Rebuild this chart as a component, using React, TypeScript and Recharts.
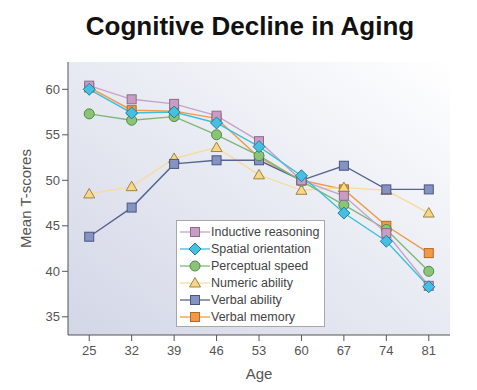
import { CartesianGrid, Line, LineChart, XAxis, YAxis } from "recharts";

const ages = [25, 32, 39, 46, 53, 60, 67, 74, 81];
const inductiveReasoning = [60.4, 58.9, 58.4, 57.1, 54.3, 50.0, 48.3, 44.2, 38.4];
const spatialOrientation = [60.0, 57.4, 57.5, 56.3, 53.7, 50.5, 46.4, 43.3, 38.3];
const perceptualSpeed = [57.3, 56.6, 57.0, 55.0, 52.7, 49.9, 47.3, 44.6, 40.0];
const numericAbility = [48.5, 49.3, 52.4, 53.6, 50.6, 48.9, 49.2, 48.9, 46.4];
const verbalAbility = [43.8, 47.0, 51.8, 52.2, 52.2, 50.0, 51.6, 49.0, 49.0];
const verbalMemory = [60.2, 57.7, 57.6, 56.8, 52.5, 50.0, 49.0, 45.0, 42.0];
const yTicks = [35, 40, 45, 50, 55, 60];

type Shape = "square" | "diamond" | "circle" | "triangle";

// legend order
const SERIES = [
  { key: "inductive", name: "Inductive reasoning", values: inductiveReasoning, line: "#c9a2c9", fill: "#c99cc4", stroke: "#8e6c8c", shape: "square" as Shape },
  { key: "spatial", name: "Spatial orientation", values: spatialOrientation, line: "#3fbfd8", fill: "#45c0e3", stroke: "#237e9e", shape: "diamond" as Shape },
  { key: "perceptual", name: "Perceptual speed", values: perceptualSpeed, line: "#7fb77a", fill: "#8cc477", stroke: "#4f8a4a", shape: "circle" as Shape },
  { key: "numeric", name: "Numeric ability", values: numericAbility, line: "#f6dca0", fill: "#f7d685", stroke: "#9c8546", shape: "triangle" as Shape },
  { key: "verbal", name: "Verbal ability", values: verbalAbility, line: "#56648f", fill: "#8592c2", stroke: "#4a5780", shape: "square" as Shape },
  { key: "memory", name: "Verbal memory", values: verbalMemory, line: "#ee9a4a", fill: "#f0994a", stroke: "#b36a22", shape: "square" as Shape },
];

// drawing order, bottom to top
const DRAW_ORDER = ["memory", "numeric", "verbal", "perceptual", "inductive", "spatial"];

const data = ages.map((age, i) => {
  const row: Record<string, number> = { age };
  SERIES.forEach((s) => (row[s.key] = s.values[i]));
  return row;
});

const FONT = "Arial, 'Liberation Sans', sans-serif";

function Marker({ cx, cy, shape, fill, stroke }: { cx: number; cy: number; shape: Shape; fill: string; stroke: string }) {
  if (cx == null || cy == null) return null;
  if (shape === "square")
    return <rect x={cx - 4.5} y={cy - 4.5} width={9} height={9} fill={fill} stroke={stroke} strokeWidth={1} />;
  if (shape === "diamond")
    return (
      <polygon
        points={`${cx},${cy - 6} ${cx + 6},${cy} ${cx},${cy + 6} ${cx - 6},${cy}`}
        fill={fill}
        stroke={stroke}
        strokeWidth={1}
      />
    );
  if (shape === "circle") return <circle cx={cx} cy={cy} r={5} fill={fill} stroke={stroke} strokeWidth={1} />;
  return (
    <polygon
      points={`${cx},${cy - 5.5} ${cx + 5.5},${cy + 4} ${cx - 5.5},${cy + 4}`}
      fill={fill}
      stroke={stroke}
      strokeWidth={1}
    />
  );
}

function LegendBox() {
  return (
    <div
      style={{
        position: "absolute",
        left: 176,
        top: 220,
        width: 149,
        height: 107,
        background: "#fff",
        border: "1px solid #a8a8a8",
        boxSizing: "border-box",
        padding: "2px 0 0 3px",
        fontFamily: FONT,
        fontSize: 12.5,
        color: "#444",
      }}
    >
      {SERIES.map((s) => (
        <div key={s.key} style={{ display: "flex", alignItems: "center", height: 17 }}>
          <svg width={30} height={16} style={{ marginRight: 1 }}>
            <line x1={0} y1={8} x2={30} y2={8} stroke={s.line} strokeWidth={1.3} />
            <Marker cx={15} cy={8} shape={s.shape} fill={s.fill} stroke={s.stroke} />
          </svg>
          <span>{s.name}</span>
        </div>
      ))}
    </div>
  );
}

const tickStyle = { fill: "#555", fontSize: 13, fontFamily: FONT };

export default function App() {
  const ordered = DRAW_ORDER.map((k) => SERIES.find((s) => s.key === k)!);
  return (
    <div style={{ position: "absolute", left: 0, top: 0, width: 477, height: 390, background: "#fff" }}>
      <div
        style={{
          position: "absolute",
          left: 0,
          top: 11,
          width: 500,
          textAlign: "center",
          fontFamily: FONT,
          fontWeight: "bold",
          fontSize: 26,
          color: "#111",
        }}
      >
        Cognitive Decline in Aging
      </div>
      <LineChart width={477} height={390} data={data} margin={{ top: 62, right: 27, bottom: 1, left: 0 }}>
        <defs>
          <linearGradient id="plotBg" x1="0" y1="1" x2="1" y2="0">
            <stop offset="0%" stopColor="#d3d6e6" />
            <stop offset="60%" stopColor="#eceef5" />
            <stop offset="100%" stopColor="#ffffff" />
          </linearGradient>
        </defs>
        <CartesianGrid horizontal={false} vertical={false} fill="url(#plotBg)" />
        <XAxis
          dataKey="age"
          type="number"
          domain={[21.5, 84.5]}
          ticks={ages}
          interval={0}
          height={54}
          stroke="#555"
          tickSize={6}
          tickMargin={5}
          tick={tickStyle}
          label={{ value: "Age", position: "insideBottom", offset: 10, fill: "#555", fontSize: 15, fontFamily: FONT }}
        />
        <YAxis
          type="number"
          domain={[33, 63]}
          ticks={yTicks}
          width={68}
          stroke="#555"
          tickSize={6}
          tick={tickStyle}
          label={{
            value: "Mean T-scores",
            angle: -90,
            position: "insideLeft",
            offset: 26,
            style: { textAnchor: "middle", fill: "#555", fontSize: 15, fontFamily: FONT },
          }}
        />
        {ordered.map((s) => (
          <Line
            key={s.key}
            dataKey={s.key}
            name={s.name}
            stroke={s.line}
            strokeWidth={1.4}
            isAnimationActive={false}
            dot={(p: any) => <Marker key={`${s.key}-${p.index}`} cx={p.cx} cy={p.cy} shape={s.shape} fill={s.fill} stroke={s.stroke} />}
            activeDot={false}
          />
        ))}
      </LineChart>
      <LegendBox />
    </div>
  );
}
